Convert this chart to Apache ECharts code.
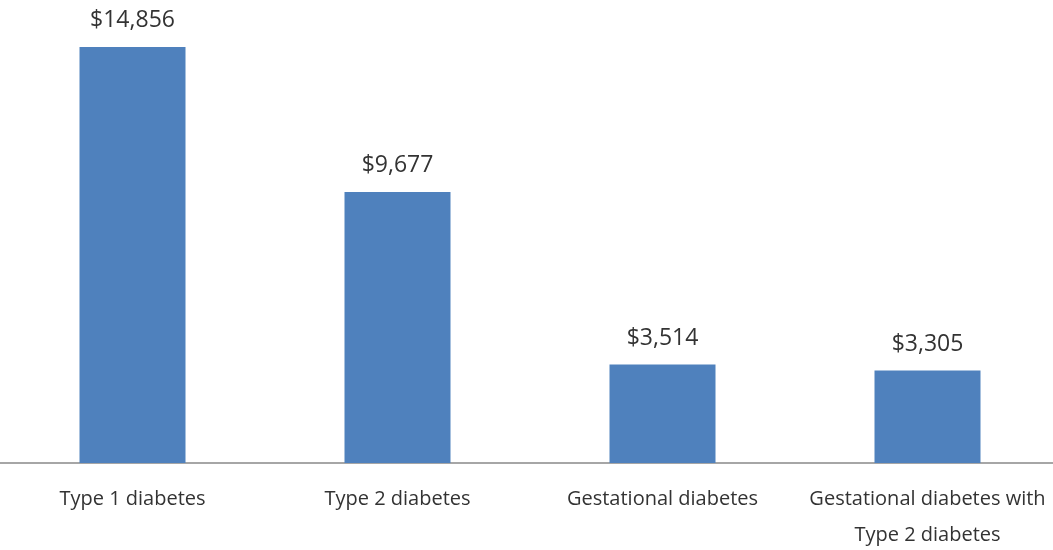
<!DOCTYPE html>
<html>
<head>
<meta charset="utf-8">
<script src="https://cdn.jsdelivr.net/npm/echarts@6/dist/echarts.min.js"></script>
<style>
  html, body { margin: 0; padding: 0; background: #fff; }
  #chart { width: 1053px; height: 550px; }
</style>
</head>
<body>
<div id="chart"></div>
<script>
const categories = ["Type 1 diabetes", "Type 2 diabetes", "Gestational diabetes", "Gestational diabetes with\nType 2 diabetes"];
const costs = [14856, 9677, 3514, 3305];

const chart = echarts.init(document.getElementById("chart"));
chart.setOption({
  animation: false,
  grid: { left: 0, width: 1060, top: 15, bottom: 87, outerBoundsMode: "none" },
  xAxis: {
    type: "category",
    data: categories,
    axisLine: { lineStyle: { color: "#a6a6a6", width: 2 } },
    axisTick: { show: false },
    axisLabel: {
      interval: 0,
      color: "#333",
      fontFamily: "Open Sans",
      fontSize: 20,
      lineHeight: 36,
      margin: 18,
    },
  },
  yAxis: {
    type: "value",
    min: 0,
    max: 16000,
    show: false,
    splitLine: { show: false },
  },
  series: [
    {
      type: "bar",
      data: costs,
      barWidth: "40%",
      itemStyle: { color: "#4f81bd" },
      label: {
        show: true,
        position: "top",
        distance: 15,
        color: "#333",
        fontFamily: "Open Sans",
        fontSize: 23,
        formatter: (p) => "$" + p.value.toLocaleString("en-US"),
      },
    },
  ],
});
</script>
</body>
</html>
